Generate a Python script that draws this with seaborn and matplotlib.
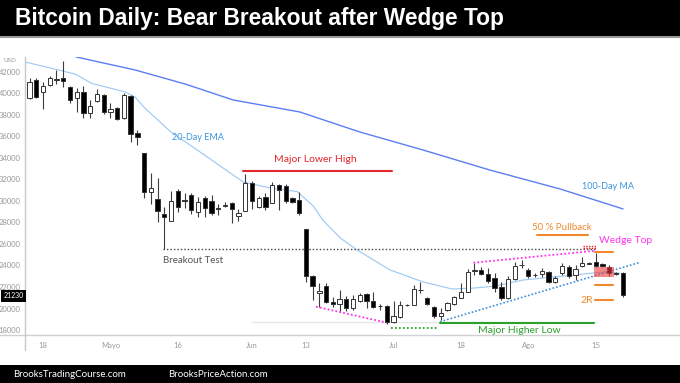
import numpy as np
import pandas as pd
import seaborn as sns
import matplotlib
matplotlib.use("Agg")
import matplotlib.pyplot as plt
from matplotlib.patches import Rectangle
from matplotlib.lines import Line2D

# daily bars, weekdays only, mid April -> 19 Aug
opens = [39600, 41250, 40110, 40790, 41350, 41470, 40600, 39550, 40170, 38150,
         39300, 39860, 38310, 38690, 37690, 39770, 36350, 34440, 30870, 30160,
         28830, 28170, 30960, 30050, 30560, 29000, 30250, 30030, 29330, 29560,
         29790, 28600, 29100, 31650, 29470, 30400, 29840, 31490, 31420, 30250,
         30090, 27370, 23020, 21410, 22120, 20630, 20420, 20860, 20020, 20700,
         21350, 20730, 20250, 20230, 18720, 19180, 20300, 20330, 21690, 21000,
         20170, 19300, 19860, 20420, 21000, 21560, 23480, 23580, 23210, 22810,
         22030, 20950, 22720, 24020, 23580, 23150, 23210, 23360, 22490, 23270,
         23880, 23120, 23980, 24180, 24300, 24110, 23880, 23300, 23270]
highs = [41470, 41470, 41100, 41650, 42190, 43020, 40720, 40480, 40720, 39400,
         40420, 39920, 39090, 38770, 40020, 39860, 36600, 34460, 32580, 32110,
         29480, 30960, 31120, 30720, 30720, 30400, 30490, 30560, 29720, 29940,
         29940, 29230, 32480, 31860, 30490, 30770, 31740, 31550, 31550, 30400,
         30870, 27400, 23120, 22400, 22340, 21100, 21720, 21160, 21250, 21480,
         21480, 21530, 20420, 20330, 20730, 20700, 20420, 22190, 22490, 21100,
         20230, 20020, 20630, 21190, 22370, 23650, 24200, 23900, 23740, 23270,
         22490, 23040, 24350, 24510, 23740, 23270, 23740, 23520, 23020, 24200,
         24050, 24050, 24820, 24350, 25190, 24200, 24020, 23420, 23420]
lows = [39500, 39550, 38560, 40700, 40860, 40580, 39150, 38250, 37690, 37690,
        39180, 38120, 37690, 37530, 37630, 35520, 35210, 30250, 29690, 28080,
        25510, 28100, 29010, 29320, 28790, 28540, 28540, 28700, 28700, 29410,
        27980, 28170, 29050, 29230, 29320, 29160, 29790, 29160, 29790, 29790,
        28700, 22490, 20790, 20170, 20480, 20170, 19700, 19770, 19900, 20600,
        20020, 20020, 19860, 18560, 18620, 19090, 20260, 20300, 21410, 20330,
        19160, 18930, 19770, 20330, 20950, 21500, 23120, 23120, 22340, 21560,
        20800, 20860, 22640, 23740, 22860, 22950, 22950, 22400, 22400, 23120,
        22860, 22650, 23880, 24100, 23880, 23880, 23020, 23120, 21100]
closes = [41100, 39700, 40700, 41410, 41300, 41190, 39400, 40170, 38210, 38860,
          39950, 38250, 38560, 37630, 39860, 36230, 35920, 30870, 31240, 29100,
          28510, 30030, 29480, 30000, 29160, 29940, 29320, 28910, 29290, 29640,
          29230, 28860, 31650, 30030, 30250, 29470, 31490, 31030, 30030, 29880,
          28860, 23020, 22090, 21660, 20630, 20420, 20860, 20020, 20880, 21260,
          20730, 20170, 20210, 18770, 19300, 20330, 20350, 21790, 21750, 20420,
          19300, 19550, 20540, 21100, 21560, 23420, 23540, 23210, 22590, 21880,
          20950, 22720, 23950, 24080, 23020, 23100, 23510, 22490, 22860, 23950,
          23020, 23670, 24200, 24230, 23980, 23950, 23270, 23240, 21260]

tick_pos = [2, 12, 22, 33, 41, 54, 64, 74, 84]
tick_labels = ["18", "Mayo", "16", "Jun", "13", "Jul", "18", "Ago", "15"]

# moving averages (bar index, price)
ema_bar = [-0.67, 4.3, 6.75, 9.2, 14.2, 15.6, 17.1, 20.8, 25.3, 31.7, 35.7, 39.7,
           42.1, 43.5, 46.1, 48.6, 53.5, 58.4, 62.7, 66.1, 69.1, 73.2, 78.3,
           83.2, 85.7, 87.6]
ema_val = [42930, 42190, 41810, 40950, 40140, 39700, 38650, 36510, 34560, 31770,
           31210, 30880, 29530, 28230, 26560, 25440, 23580, 22470, 21810, 21910,
           22090, 22650, 22960, 23270, 23420, 23270]
ma_bar = [6.9, 15.65, 23.1, 30.2, 40.1, 49.0, 58.4, 68.3, 78.7, 88.06]
ma_val = [43400, 42190, 40880, 39400, 38280, 36420, 34740, 32880, 31120, 29260]

W, H = 680, 383


def fx(px):
    return px / W


def fy(py):
    return 1 - py / H


sns.set_style("white")
plt.rcParams["font.family"] = ["Lato", "DejaVu Sans"]

fig = plt.figure(figsize=(W / 100, H / 100), dpi=100)
fig.add_artist(Rectangle((0, fy(36)), 1, 36 / H, transform=fig.transFigure,
                         facecolor="black", edgecolor="none"))
fig.add_artist(Line2D([0, 1], [fy(37)] * 2, color="#9a9a9a", lw=1.5))
fig.add_artist(Rectangle((0, 0), 1, 18 / H, transform=fig.transFigure,
                         facecolor="black", edgecolor="none"))
fig.text(fx(15), fy(19), "Bitcoin Daily: Bear Breakout after Wedge Top",
         color="white", fontsize=16.4, fontweight="bold", va="center",
         family=["Liberation Sans Narrow", "Liberation Sans"])
fig.text(fx(13), fy(374.5), "BrooksTradingCourse.com", color="white",
         fontsize=7, va="center")
fig.text(fx(168), fy(374.5), "BrooksPriceAction.com", color="white",
         fontsize=7, va="center")

ax = fig.add_axes([fx(25), fy(335), 655 / W, (335 - 57) / H])
ax.set_xlim(-0.67, 96.5)
ax.set_ylim(17535, 43395)
for s in ax.spines.values():
    s.set_visible(False)
fig.add_artist(Line2D([0, 1], [fy(334.5)] * 2, color="#d0d0d0", lw=1))
fig.add_artist(Line2D([fx(25)] * 2, [fy(57), fy(350)], color="#c8c8c8", lw=1))

ax.set_yticks(range(18000, 42001, 2000))
ax.set_xticks(tick_pos)
ax.set_xticklabels(tick_labels)
ax.tick_params(axis="both", length=0, labelsize=5.5, labelcolor="#999999")
ax.tick_params(axis="y", pad=3)
ax.tick_params(axis="x", pad=5)

# candles
df = pd.DataFrame({"open": opens, "high": highs, "low": lows, "close": closes})
df["bar"] = np.arange(len(df))
up = df["close"] >= df["open"]
body = (df["close"] - df["open"]).abs().clip(lower=60)
bottom = df[["open", "close"]].min(axis=1)
ax.vlines(df["bar"], df["low"], df["high"], color="#3c3c3c", lw=0.8, zorder=2)
ax.bar(df["bar"], body, bottom=bottom, width=0.64,
       color=np.where(up, "white", "black"), edgecolor="#333333",
       linewidth=0.7, zorder=3)

sns.lineplot(x=ema_bar, y=ema_val, ax=ax, color="#9fcaf4", lw=0.85, zorder=1)
sns.lineplot(x=ma_bar, y=ma_val, ax=ax, color="#5b7ef2", lw=1.0, zorder=1)

# reference lines
ax.plot([19.85, 83.9], [25510, 25510], color="#444444", lw=1, ls=(0, (1, 1.5)), zorder=1)
ax.plot([33, 84], [18770, 18770], color="#e8e8e8", lw=1, zorder=0)
ax.plot([31.7, 53.8], [32790, 32790], color="#e3262b", lw=1.5)
ax.plot([65.85, 84.05], [24260, 25380], color="#ff33ee", lw=1.3, ls=(0, (1, 1.2)))
ax.plot([42.5, 53], [20170, 18680], color="#ff33ee", lw=1.3, ls=(0, (1, 1.2)))
ax.plot([60.9, 90.6], [18770, 24300], color="#3d8fdd", lw=1.2, ls=(0, (1, 1.2)))
for lvl in [25600, 25810]:
    ax.plot([82.1, 84.05], [lvl, lvl], color="#ee2222", lw=1.0, ls=(0, (1, 1)))
ax.plot([60.9, 83.8], [18620, 18620], color="#2ca02c", lw=1.5)
ax.plot([53.7, 60.4], [18210, 18210], color="#2ca02c", lw=1.3, ls=(0, (1, 1.2)))
ax.plot([75.25, 82.9], [26840, 26840], color="#f0882e", lw=1.5)
for lvl in [25280, 22190, 20790]:
    ax.plot([83.9, 86.6], [lvl, lvl], color="#f0882e", lw=1.5)
ax.add_patch(Rectangle((83.75, 22930), 2.95, 960, facecolor="#ee3b3b",
                       alpha=0.6, edgecolor="none", zorder=4))

# labels
ax.text(42.4, 33900, "Major Lower High", color="#e3262b", fontsize=7.5,
        ha="center", va="center")
ax.text(24.2, 24510, "Breakout Test", color="#555555", fontsize=7,
        ha="center", va="center")
ax.text(25.05, 35890, "20-Day EMA", color="#3c95de", fontsize=6.5,
        ha="center", va="center")
ax.text(85.75, 31330, "100-Day MA", color="#3c95de", fontsize=6.5,
        ha="center", va="center")
ax.text(78.9, 27550, "50 % Pullback", color="#f0882e", fontsize=7,
        ha="center", va="center")
ax.text(88.5, 26370, "Wedge Top", color="#ff33ee", fontsize=7.5,
        ha="center", va="center")
ax.text(82.7, 20790, "2R", color="#f0882e", fontsize=7.5,
        ha="center", va="center")
ax.text(72.7, 18000, "Major Higher Low", color="#2ca02c", fontsize=7.5,
        ha="center", va="center")

fig.text(fx(4), fy(61), "USD", color="#999999", fontsize=4.5, va="center")
fig.text(fx(13.5), fy(296), "21230", color="white", fontsize=5, ha="center",
         va="center", bbox=dict(boxstyle="square,pad=0.3", fc="black", ec="none"))

fig.savefig("out.png", dpi=100)
